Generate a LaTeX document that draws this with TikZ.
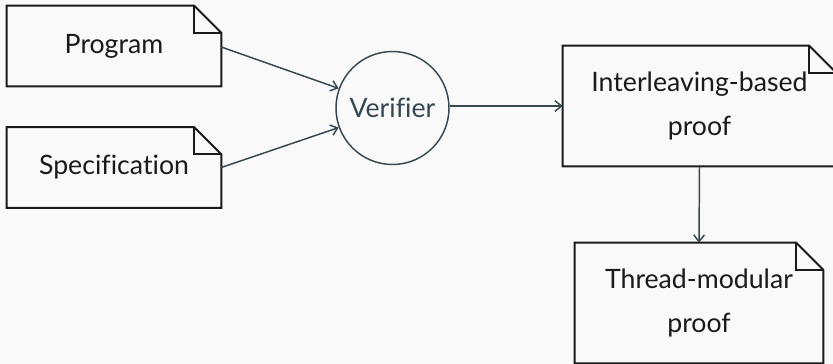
\documentclass[tikz,border=0pt]{standalone}
\usepackage{fontspec}
\setmainfont{Lato}[Ligatures=NoCommon]
\usetikzlibrary{arrows.meta}
\definecolor{paper}{HTML}{F9F9F9}
\definecolor{ink}{HTML}{1A1A1A}
\definecolor{slate}{HTML}{37474F}
\tikzset{
  notebox/.style={inner sep=0pt, align=center, text=ink,
    font=\fontsize{20}{33}\selectfont},
  notepen/.style={draw=ink, line width=1.5pt, line join=miter},
  verifier/.style={circle, draw=slate, line width=1.1pt, text=slate,
    minimum size=84.75pt, inner sep=0pt, font=\fontsize{20}{24}\selectfont},
  flow/.style={draw=slate, line width=1.1pt, -{Straight Barb[length=5pt,width=8pt]}},
}
% outline of a note with a folded top-right corner
\newcommand\noteoutline[1]{%
  \draw[notepen] (#1.north west) -- ([xshift=-20.25pt]#1.north east)
    -- ([yshift=-20.25pt]#1.north east) -- (#1.south east)
    -- (#1.south west) -- cycle;
  \draw[notepen] ([xshift=-20.25pt]#1.north east) |- ([yshift=-20.25pt]#1.north east);}
\begin{document}
\begin{tikzpicture}[x=0.75pt,y=-0.75pt]
  \fill[paper] (0,0) rectangle (833,364);
  \useasboundingbox (0,0) rectangle (833,364);
  \begin{scope}
  \clip (0,0) rectangle (833,364);

  \node[notebox, minimum width=160.5pt, minimum height=60pt] (prog) at (114,46) {Program};
  \noteoutline{prog}
  \node[notebox, minimum width=160.5pt, minimum height=60pt] (spec) at (114,167.5) {Specification};
  \noteoutline{spec}

  \node[verifier] (ver) at (392.5,108) {Verifier};

  \node[notebox, minimum width=204.75pt, minimum height=90pt] (inter) at (699.5,106)
    {Interleaving-based\\proof};
  \noteoutline{inter}

  \node[notebox, minimum width=186pt, minimum height=90pt] (thread) at (699,303)
    {Thread-modular\\proof};
  \noteoutline{thread}

  \draw[flow] ([yshift=-0.75pt]prog.east) -- (ver.160);
  \draw[flow] (spec.east) -- (ver.200);
  \draw[flow] (ver.east |- inter.west) -- (inter.west);
  \draw[flow] (inter.south) -- (thread.north);
  \end{scope}
\end{tikzpicture}
\end{document}
